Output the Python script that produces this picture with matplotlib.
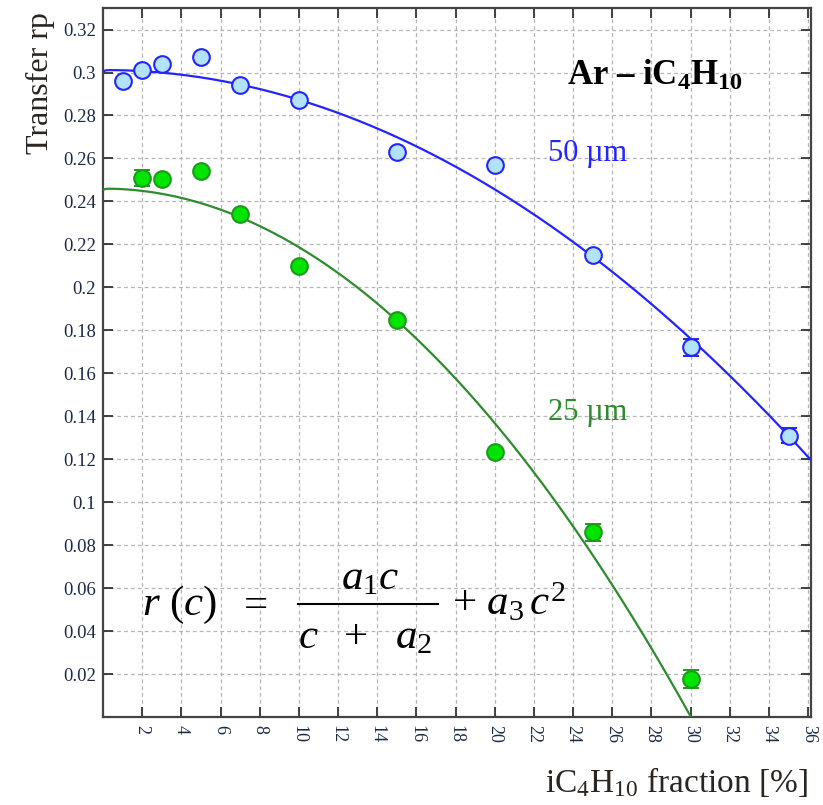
import numpy as np
import matplotlib
matplotlib.use("Agg")
import matplotlib.pyplot as plt
from matplotlib.lines import Line2D

matplotlib.rcParams.update({
    "font.family": "Liberation Serif",
    "mathtext.fontset": "custom",
    "mathtext.rm": "Liberation Serif",
    "mathtext.it": "Liberation Serif:italic",
    "mathtext.bf": "Liberation Serif:bold",
})

# measured transfer for the two hole sizes
conc_50 = [1, 2, 3, 5, 7, 10, 15, 20, 25, 30, 35]
rp_50 = [0.296, 0.301, 0.304, 0.307, 0.294, 0.287, 0.263, 0.257, 0.215, 0.172, 0.131]
err_50 = [0, 0, 0, 0, 0, 0, 0, 0, 0, 0.004, 0.0035]

conc_25 = [2, 3, 5, 7, 10, 15, 20, 25, 30]
rp_25 = [0.251, 0.2505, 0.254, 0.234, 0.210, 0.185, 0.1235, 0.086, 0.0176]
err_25 = [0.0036, 0, 0, 0, 0, 0, 0, 0.004, 0.0043]

# fit parameters for r(c) = a1*c/(c+a2) + a3*c^2
fit_50 = (0.3012, 1e-4, -1.39e-4)
fit_25 = (0.2460, 1e-4, -2.73e-4)

x_ticks = list(range(2, 37, 2))
y_ticks = [0.02, 0.04, 0.06, 0.08, 0.1, 0.12, 0.14, 0.16, 0.18, 0.2,
           0.22, 0.24, 0.26, 0.28, 0.3, 0.32]
y_ticklabels = ["0.02", "0.04", "0.06", "0.08", "0.1", "0.12", "0.14", "0.16",
                "0.18", "0.2", "0.22", "0.24", "0.26", "0.28", "0.3", "0.32"]

BLUE_LINE = "#2424ff"
BLUE_FACE = "#b3e3fb"
GREEN_LINE = "#2e8b2e"
GREEN_FACE = "#00e400"
GREEN_EDGE = "#1d9a1d"
TICK_COL = "#1c2a46"

W, H = 823, 805


def r_model(c, a1, a2, a3):
    return a1 * c / (c + a2) + a3 * c ** 2


def px(x, y):
    # pixel position (from top-left) -> figure fraction
    return x / W, 1 - y / H


fig = plt.figure(figsize=(W / 100, H / 100), dpi=100)
ax = fig.add_axes([0.1252, 0.1093, 0.8603, 0.8807])
ax.set_xlim(0, 36.15)
ax.set_ylim(0, 0.33)

c = np.linspace(0.05, 36.15, 800)
ax.plot(c, r_model(c, *fit_50), color=BLUE_LINE, lw=1.6, zorder=3)
ax.plot(c, r_model(c, *fit_25), color=GREEN_LINE, lw=1.6, zorder=3)


def draw_series(xs, ys, errs, face, edge):
    xs, ys, errs = np.array(xs), np.array(ys), np.array(errs)
    m = errs > 0
    ax.errorbar(xs[m], ys[m], yerr=errs[m], fmt="none", ecolor=edge,
                elinewidth=1.4, capsize=6, capthick=1.4, zorder=4)
    ax.plot(xs, ys, "o", ms=12, mfc=face, mec=edge, mew=1.5,
            ls="none", zorder=5)


draw_series(conc_50, rp_50, err_50, BLUE_FACE, BLUE_LINE)
draw_series(conc_25, rp_25, err_25, GREEN_FACE, GREEN_EDGE)

ax.set_xticks(x_ticks)
ax.set_xticklabels([str(t) for t in x_ticks], rotation=-90, fontsize=13,
                   color=TICK_COL)
ax.set_yticks(y_ticks)
ax.set_yticklabels(y_ticklabels, fontsize=13.5, color=TICK_COL)
ax.tick_params(direction="in", length=7, width=1.3, top=True, right=True,
               color="#333333")
ax.tick_params(axis="x", pad=6)
ax.tick_params(axis="y", pad=5)
for sp in ax.spines.values():
    sp.set_color("#444444")
    sp.set_linewidth(1.6)

ax.grid(True, color="#b5b5b5", lw=0.9, ls=(0, (3, 2.5)))
ax.set_axisbelow(True)

ax.text(0.78, 0.905, r"Ar – iC$_\mathbf{4}$H$_\mathbf{10}$", transform=ax.transAxes,
        fontsize=25, fontweight="bold", ha="center", va="center", color="black")
ax.text(0.685, 0.795, "50 µm", transform=ax.transAxes, fontsize=22,
        color=BLUE_LINE, ha="center", va="center")
ax.text(0.685, 0.43, "25 µm", transform=ax.transAxes, fontsize=22,
        color=GREEN_LINE, ha="center", va="center")

# fit formula, laid out piece by piece
FS = 31
fig.text(*px(142, 615), r"$r\ (c)$", fontsize=FS, ha="left", va="baseline")
fig.text(*px(252, 615), r"$=$", fontsize=FS, ha="center", va="baseline")
fig.text(*px(370, 589), r"$a_1c$", fontsize=FS, ha="center", va="baseline")
fig.text(*px(365, 648), r"$c\ \ +\ \ a_2$", fontsize=FS, ha="center", va="baseline")
bx0, by = px(298, 604)
bx1, _ = px(438, 604)
fig.add_artist(Line2D([bx0, bx1], [by, by], color="black", lw=1.5))
fig.text(*px(452, 615), r"$+\ a_3\,c^2$", fontsize=FS, ha="left", va="baseline")

fig.text(40 / W, 1 - 83 / H, "Transfer rp", rotation=90, fontsize=23,
         ha="center", va="center", color="#2a2520")
fig.text(808 / W, 1 - 782 / H, r"iC$_4$H$_{10}$ fraction [%]", fontsize=24,
         ha="right", va="center", color="#2a2520")

fig.savefig("out.png", dpi=100)
